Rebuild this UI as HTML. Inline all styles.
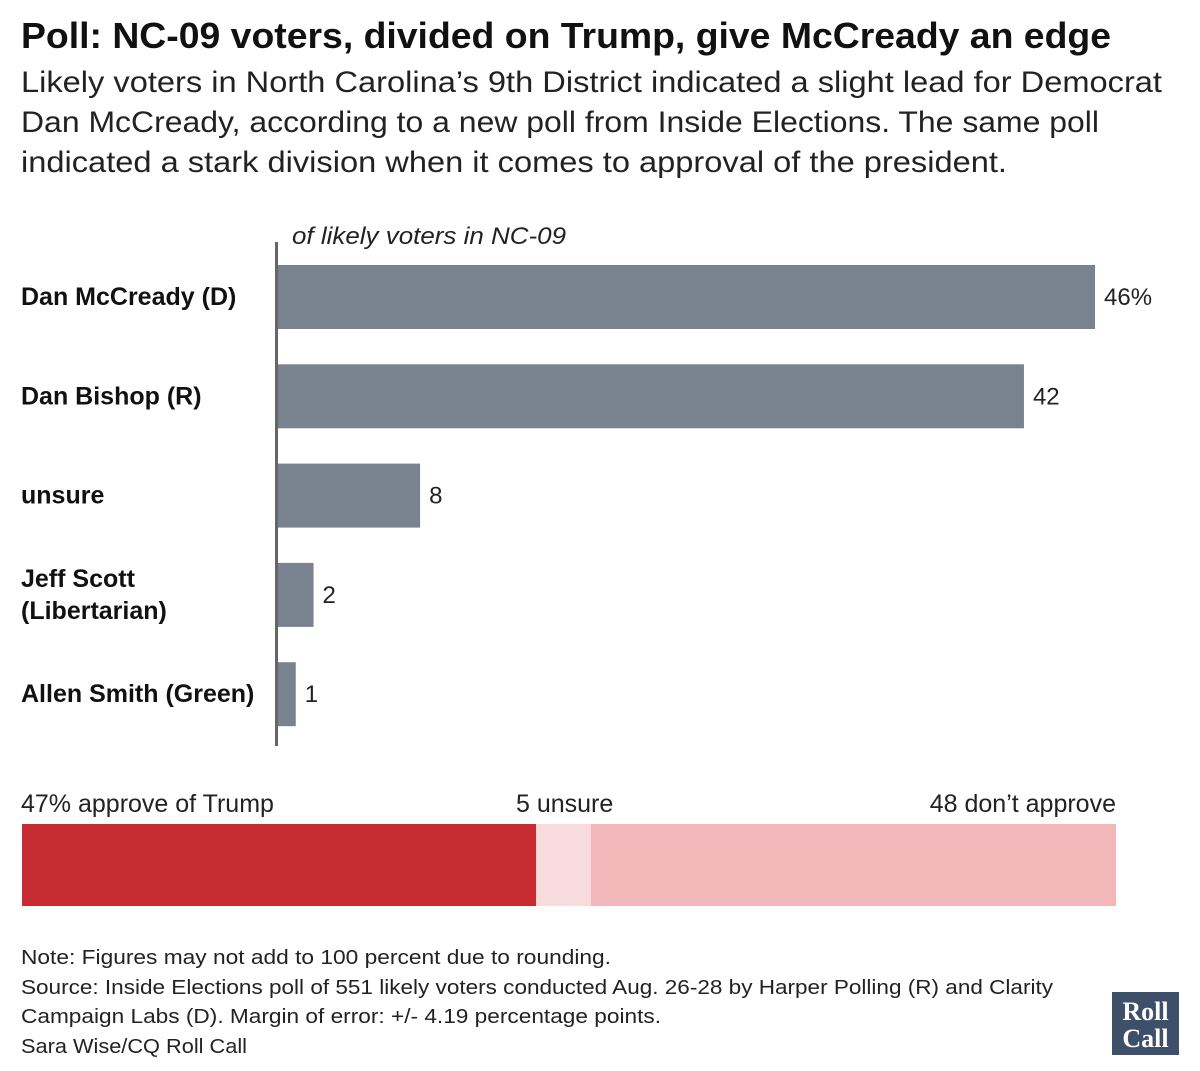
<!DOCTYPE html>
<html><head><meta charset="utf-8"><style>
body{margin:0;background:#fff}
svg{display:block;font-family:"Liberation Sans",sans-serif}
</style></head><body>
<svg width="1200" height="1071" viewBox="0 0 1200 1071">
<text x="21" y="48" font-size="36" font-weight="bold" fill="#111" textLength="1090" lengthAdjust="spacingAndGlyphs">Poll: NC-09 voters, divided on Trump, give McCready an edge</text>
<g font-size="30" fill="#222">
<text x="21" y="92" textLength="1141" lengthAdjust="spacingAndGlyphs">Likely voters in North Carolina’s 9th District indicated a slight lead for Democrat</text>
<text x="21" y="132" textLength="1078" lengthAdjust="spacingAndGlyphs">Dan McCready, according to a new poll from Inside Elections. The same poll</text>
<text x="21" y="172" textLength="986" lengthAdjust="spacingAndGlyphs">indicated a stark division when it comes to approval of the president.</text>
</g>
<text x="292" y="244" font-size="24" font-style="italic" fill="#222" textLength="274" lengthAdjust="spacingAndGlyphs">of likely voters in NC-09</text>
<g id="bars"></g>
<rect x="275" y="242" width="3" height="504" fill="#666"/>
<g id="approval"></g>
<g font-size="20" fill="#222">
<text x="21" y="964" textLength="590" lengthAdjust="spacingAndGlyphs">Note: Figures may not add to 100 percent due to rounding.</text>
<text x="21" y="994" textLength="1032" lengthAdjust="spacingAndGlyphs">Source: Inside Elections poll of 551 likely voters conducted Aug. 26-28 by Harper Polling (R) and Clarity</text>
<text x="21" y="1023" textLength="640" lengthAdjust="spacingAndGlyphs">Campaign Labs (D).  Margin of error: +/- 4.19 percentage points.</text>
<text x="21" y="1053" textLength="226" lengthAdjust="spacingAndGlyphs">Sara Wise/CQ Roll Call</text>
</g>
<g>
<rect x="1112" y="992" width="67" height="63" fill="#3e4f69"/>
<text x="1145.5" y="1020" font-family="Liberation Serif,serif" font-weight="bold" font-size="26" fill="#fff" text-anchor="middle">Roll</text>
<text x="1145.5" y="1047" font-family="Liberation Serif,serif" font-weight="bold" font-size="26" fill="#fff" text-anchor="middle">Call</text>
</g>
</svg>
<script>
const categories=["Dan McCready (D)","Dan Bishop (R)","unsure","Jeff Scott|(Libertarian)","Allen Smith (Green)"];
const values=[46,42,8,2,1];
const valueLabels=["46%","42","8","2","1"];
const approvalLabels=["47% approve of Trump","5 unsure","48 don’t approve"];
const approvalValues=[47,5,48];
const approvalColors=["#c62b32","#f8dcdd","#f2b7b9"];
const NS="http://www.w3.org/2000/svg";
const x0=278, unit=817/46;
const xs=v=>v*unit;
const yTop=i=>265+i*99.3;
const bh=64;
const g=document.getElementById('bars');
function mk(t,a,p){const e=document.createElementNS(NS,t);for(const k in a)e.setAttribute(k,a[k]);p.appendChild(e);return e;}
categories.forEach((c,i)=>{
 const r=mk('rect',{x:x0,y:yTop(i),width:xs(values[i]),height:bh,fill:'#78838f'},g);
 
 
 const v=mk('text',{x:x0+xs(values[i])+9,y:yTop(i)+40,'font-size':24,fill:'#222'},g);
 v.textContent=valueLabels[i];
 
 
 const parts=c.split('|');
 parts.forEach((p,j)=>{
  const y=yTop(i)+40+(parts.length>1?(j*32-16):0);
  const t=mk('text',{x:21,y:y,'font-size':25,'font-weight':'bold',fill:'#111'},g);
  t.textContent=p;
  
  
 });
});
const ag=document.getElementById('approval');
const ax0=22, aw=1094, au=aw/100;
let cum=0;
approvalValues.forEach((v,i)=>{
 const r=mk('rect',{x:ax0+cum*au,y:824,width:v*au,height:82,fill:approvalColors[i]},ag);
 
 
 cum+=v;
});
const anchors=[['start',21],['start',516],['end',1116]];
approvalLabels.forEach((l,i)=>{
 const t=mk('text',{x:anchors[i][1],y:812,'font-size':25,fill:'#222','text-anchor':anchors[i][0]},ag);
 t.textContent=l;
 
 
});
</script>
</body></html>
